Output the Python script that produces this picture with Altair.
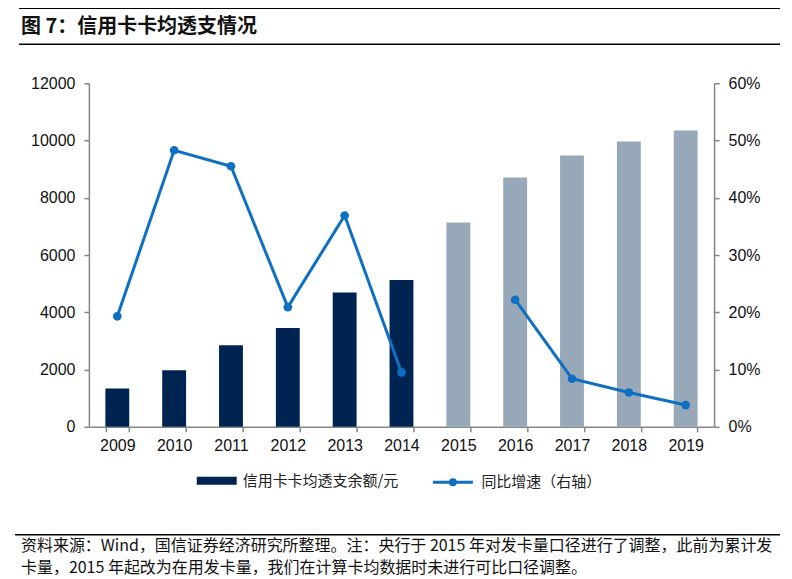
import altair as alt
import pandas as pd

years = ["2009", "2010", "2011", "2012", "2013", "2014", "2015", "2016", "2017", "2018", "2019"]
balance = [1340, 1980, 2850, 3450, 4690, 5130, 7140, 8710, 9480, 9970, 10350]
growth = [0.193, 0.483, 0.455, 0.209, 0.369, 0.095, None, 0.222, 0.084, 0.060, 0.038]
segment = ["a", "a", "a", "a", "a", "a", None, "b", "b", "b", "b"]
bar_type = ["信用卡卡均透支余额/元"] * 6 + ["口径调整后"] * 5
bar_series = ["信用卡卡均透支余额/元", "口径调整后"]
line_series = "同比增速（右轴）"

title_text = "图 7：信用卡卡均透支情况"
note_line1 = "资料来源：Wind，国信证券经济研究所整理。注：央行于 2015 年对发卡量口径进行了调整，此前为累计发"
note_line2 = "卡量，2015 年起改为在用发卡量，我们在计算卡均数据时未进行可比口径调整。"

NAVY = "#002452"
GRAY = "#97a8b8"
BLUE = "#0f6fc0"
AXIS_GRAY = "#868686"
LATIN = "Liberation Sans"
CJK = "Noto Sans CJK SC"

df = pd.DataFrame({"year": years, "balance": balance, "growth": growth,
                   "segment": segment, "type": bar_type})
df["series"] = line_series
line_df = df.dropna(subset=["growth"])

x_enc = alt.X("year:N",
              scale=alt.Scale(paddingInner=0.58, paddingOuter=0.29),
              axis=alt.Axis(title=None, labelAngle=0, tickBand="extent",
                            labelFont=LATIN, labelFontSize=16, labelColor="#111",
                            tickSize=5, labelPadding=6, domainColor=AXIS_GRAY,
                            tickColor=AXIS_GRAY, domainWidth=1.5, tickWidth=1.5))

right_axis = alt.Axis(title=None, orient="right", format=".0%",
                      values=[0, 0.1, 0.2, 0.3, 0.4, 0.5, 0.6],
                      labelFont=LATIN, labelFontSize=16, labelColor="#111",
                      tickSize=5, labelPadding=9, domainColor=AXIS_GRAY,
                      tickColor=AXIS_GRAY, domainWidth=1.5, tickWidth=1.5)

bars = alt.Chart(df).mark_bar().encode(
    x=x_enc,
    y=alt.Y("balance:Q", scale=alt.Scale(domain=[0, 12000]),
            axis=alt.Axis(title=None, values=list(range(0, 12001, 2000)), format="d",
                          labelFont=LATIN, labelFontSize=16, labelColor="#111",
                          tickSize=5, labelPadding=9, domainColor=AXIS_GRAY,
                          tickColor=AXIS_GRAY, domainWidth=1.5, tickWidth=1.5)),
    color=alt.Color("type:N",
                    scale=alt.Scale(domain=bar_series, range=[NAVY, GRAY]),
                    legend=alt.Legend(values=[bar_series[0]], orient="none",
                                      legendX=108, legendY=378, title=None,
                                      symbolType="M-1,-0.2L1,-0.2L1,0.2L-1,0.2Z",
                                      symbolSize=1600, symbolStrokeWidth=0,
                                      labelFont=CJK, labelFontSize=15, labelColor="#222",
                                      labelOffset=6, padding=0)),
)

line = alt.Chart(line_df).mark_line(strokeWidth=3).encode(
    x=x_enc,
    y=alt.Y("growth:Q", scale=alt.Scale(domain=[0, 0.6]), axis=right_axis),
    detail="segment:N",
    stroke=alt.Stroke("series:N", scale=alt.Scale(domain=[line_series], range=[BLUE]),
                      legend=alt.Legend(orient="none", legendX=343, legendY=378, title=None,
                                        symbolType="M-1,0L1,0M-0.12,0A0.12,0.12,0,1,1,0.12,0A0.12,0.12,0,1,1,-0.12,0Z",
                                        symbolSize=1600, symbolStrokeWidth=3,
                                        labelFont=CJK, labelFontSize=15, labelColor="#222",
                                        labelOffset=7, padding=0)),
)

points = alt.Chart(line_df).mark_circle(size=75, color=BLUE, opacity=1).encode(
    x=x_enc,
    y=alt.Y("growth:Q", scale=alt.Scale(domain=[0, 0.6]), axis=right_axis),
)

one = pd.DataFrame({"k": [0]})
deco = alt.Chart(one)
rule_top = deco.mark_rule(color="#000", strokeWidth=1.5).encode(
    x=alt.value(-70), x2=alt.value(692), y=alt.value(-75))
rule_mid = deco.mark_rule(color="#000", strokeWidth=1.5).encode(
    x=alt.value(-70), x2=alt.value(692), y=alt.value(-39))
rule_bot = deco.mark_rule(color="#000", strokeWidth=1.5).encode(
    x=alt.value(-74), x2=alt.value(692), y=alt.value(452))
title = deco.mark_text(align="left", baseline="middle", font=CJK, fontSize=20,
                       fontWeight="bold", color="#111").encode(
    x=alt.value(-68), y=alt.value(-56), text=alt.value(title_text))
note1 = deco.mark_text(align="left", baseline="middle", font=CJK, fontSize=16,
                       color="#111").encode(
    x=alt.value(-68), y=alt.value(463), text=alt.value(note_line1))
note2 = deco.mark_text(align="left", baseline="middle", font=CJK, fontSize=16,
                       color="#111").encode(
    x=alt.value(-68), y=alt.value(485), text=alt.value(note_line2))

chart = alt.layer(
    bars, alt.layer(line, points), rule_top, rule_mid, rule_bot, title, note1, note2
).resolve_scale(y="independent").properties(
    width=626, height=344,
    padding={"left": 81, "top": 75, "right": 70, "bottom": 150},
    autosize=alt.AutoSizeParams(type="none"),
).configure_view(stroke=None).configure_axis(grid=False)

chart.save("out.html", embed_options={"renderer": "svg", "actions": False})
